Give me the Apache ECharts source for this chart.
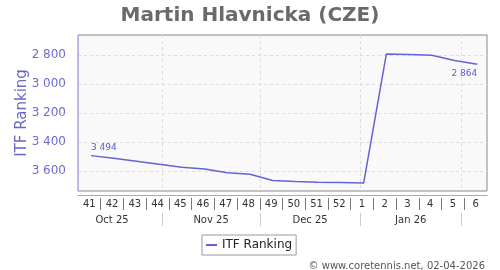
<!DOCTYPE html>
<html>
<head>
<meta charset="utf-8">
<script src="https://cdn.jsdelivr.net/npm/echarts@6/dist/echarts.min.js"></script>
<style>html,body{margin:0;padding:0;background:#fff}#c{width:500px;height:270px}</style>
</head>
<body>
<div id="c"></div>
<script>
// ---- data ----
const title = 'Martin Hlavnicka (CZE)';
const seriesName = 'ITF Ranking';
const weeks = ['41','42','43','44','45','46','47','48','49','50','51','52','1','2','3','4','5','6'];
const ranking = [3494,3512,3532,3553,3574,3586,3612,3622,3666,3672,3677,3680,3683,2793,2797,2802,2838,2864];
const firstWeekMonday = '2025-10-06';   // Monday of week 41 (2025)
const releaseWeekday = 4;              // rankings dated on Fridays (days after Monday)
const yTicks = [2800,3000,3200,3400,3600];
const yMin = 2662, yMax = 3738;
const monthStarts = ['2025-10-01','2025-11-01','2025-12-01','2026-01-01','2026-02-01','2026-03-01'];
const monthLabels = ['Oct 25','Nov 25','Dec 25','Jan 26'];
const copyright = '\u00a9 www.coretennis.net, 02-04-2026';

// ---- helpers ----
const DAY = 86400000;
const t0 = Date.parse(firstWeekMonday + 'T00:00:00Z');
const dayOf = s => Math.round((Date.parse(s + 'T00:00:00Z') - t0) / DAY);
const totalDays = weeks.length * 7;
const weekBounds = weeks.slice(1).map((w, i) => (i + 1) * 7);
const mDays = monthStarts.map(dayOf);
const monthBounds = mDays.filter(d => d > 0 && d < totalDays);
const monthMids = monthLabels.map((m, i) => (mDays[i] + mDays[i + 1]) / 2);
const fmt = v => String(v).replace(/\B(?=(\d{3})+(?!\d))/g, ' ');

const lineColor = '#6464d6';
const seriesData = ranking.map((v, i) => {
  const item = { value: [i * 7 + releaseWeekday, v] };
  if (i === 0) item.label = { show: true, position: [0, -8], align: 'left', verticalAlign: 'middle' };
  if (i === ranking.length - 1) item.label = { show: true, position: [0, 9], align: 'right', verticalAlign: 'middle' };
  return item;
});

const chart = echarts.init(document.getElementById('c'), null, { renderer: 'canvas' });
const dayAxisBase = { type: 'value', min: 0, max: totalDays, gridIndex: 0, position: 'bottom',
  axisLabel: { show: false }, axisTick: { show: false }, axisLine: { show: false }, splitLine: { show: false } };

chart.setOption({
  animation: false,
  textStyle: { fontFamily: 'DejaVu Sans' },
  title: {
    text: title, left: 'center', top: 1,
    textStyle: { fontSize: 20, fontWeight: 'bold', color: '#6a6a6a', fontFamily: 'DejaVu Sans' }
  },
  legend: {
    data: [seriesName], left: 202, top: 235, padding: [4, 4, 4, 4],
    icon: 'rect', itemWidth: 11, itemHeight: 2,
    borderColor: '#9a9a9a', borderWidth: 1, backgroundColor: '#fff',
    textStyle: { fontSize: 12, color: '#222' }
  },
  graphic: [{
    type: 'text', right: 15, top: 261,
    style: { text: copyright, fontSize: 10, fill: '#555', fontFamily: 'DejaVu Sans' }
  }],
  grid: {
    left: 78, right: 13, top: 35, bottom: 79,
    show: true, backgroundColor: '#f9f9f9', borderColor: '#888', borderWidth: 1
  },
  xAxis: [
    { type: 'category', data: weeks, boundaryGap: true, position: 'bottom',
      axisLine: { show: false }, axisTick: { show: false }, splitLine: { show: false },
      axisLabel: { margin: 8, fontSize: 10, color: '#333', interval: 0 } },
    Object.assign({}, dayAxisBase, { offset: 4, axisLine: { show: true, lineStyle: { color: '#aaa', width: 1 } } }),
    Object.assign({}, dayAxisBase, { offset: 7,
      axisTick: { show: true, customValues: weekBounds, length: 12, lineStyle: { color: '#777', width: 1 } } }),
    Object.assign({}, dayAxisBase, { offset: 22,
      axisTick: { show: true, customValues: monthBounds, length: 13, lineStyle: { color: '#ccc', width: 1 } },
      axisLabel: { show: true, customValues: monthMids, margin: 2, fontSize: 10, color: '#333',
        formatter: v => monthLabels[monthMids.indexOf(v)] || '' },
      splitLine: { show: true, lineStyle: { color: '#dcdcdc', type: [3, 3], width: 1 } } })
  ],
  yAxis: {
    type: 'value', inverse: true, min: yMin, max: yMax, offset: 5,
    name: seriesName, nameLocation: 'middle', nameGap: 43, nameMoveOverlap: false,
    nameTextStyle: { fontSize: 15, color: '#6666cc' },
    axisLine: { show: true, lineStyle: { color: '#b4b4e4', width: 1 } },
    axisTick: { show: false, customValues: yTicks },
    axisLabel: { customValues: yTicks, margin: 7, fontSize: 12, color: '#6c6ccc', formatter: v => fmt(v) },
    splitLine: { show: true, lineStyle: { color: '#dcdcdc', type: [3, 3], width: 1 } }
  },
  series: [{
    name: seriesName, type: 'line', xAxisIndex: 1, data: seriesData,
    showSymbol: true, symbol: 'circle', symbolSize: 0.01,
    lineStyle: { color: lineColor, width: 1.5 }, itemStyle: { color: lineColor },
    label: { show: false, fontSize: 9, color: '#5a5ad0', formatter: p => fmt(p.value[1]) }
  }]
});
</script>
</body>
</html>
